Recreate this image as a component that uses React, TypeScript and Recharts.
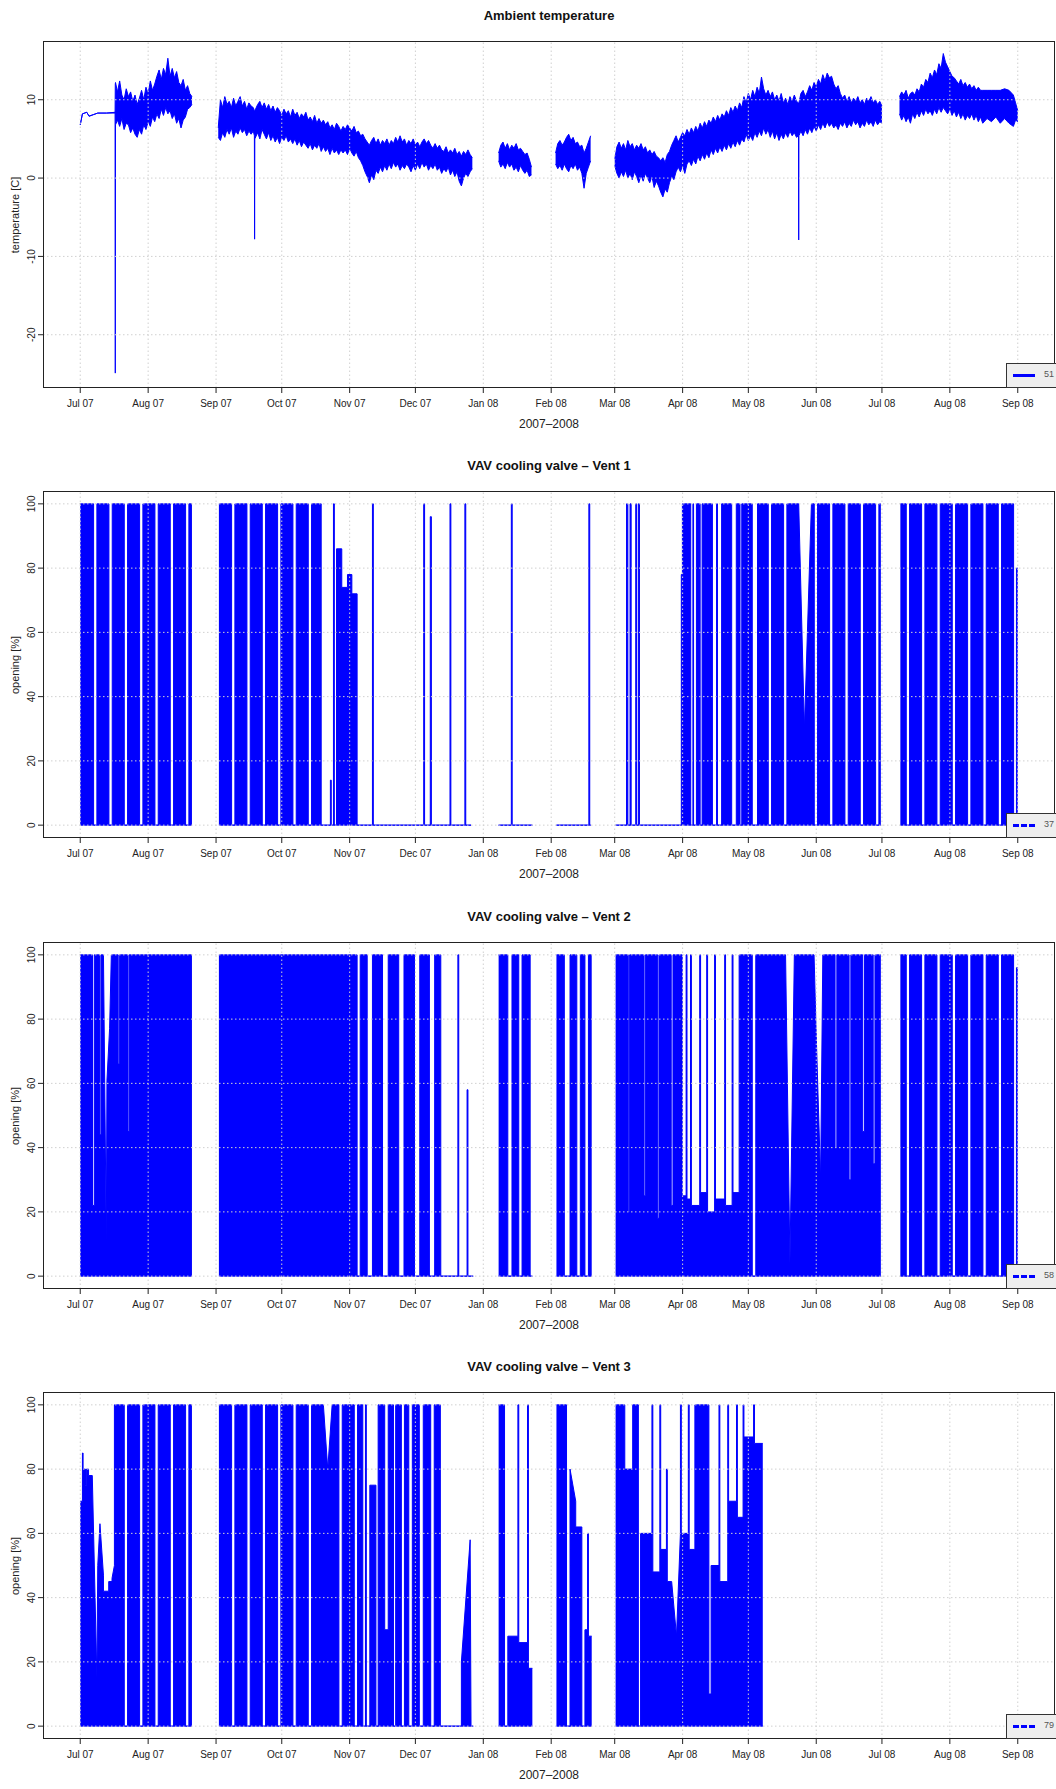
import React from "react"
import { ComposedChart, Area, XAxis, YAxis, ReferenceLine } from "recharts"

const FONT = '"Liberation Sans", Arial, Helvetica, sans-serif'
const BLUE = "#0000ff"
const GRID = "#d0d0d0"

// x axis: days since 1 Jul 2007
const MONTH_DAYS = [0, 31, 62, 92, 123, 153, 184, 215, 244, 275, 305, 336, 366, 397, 428]
const MONTH_LABELS = ["Jul 07", "Aug 07", "Sep 07", "Oct 07", "Nov 07", "Dec 07", "Jan 08", "Feb 08", "Mar 08", "Apr 08", "May 08", "Jun 08", "Jul 08", "Aug 08", "Sep 08"]

const TEMP_TICKS = [-20, -10, 0, 10]
const OPEN_TICKS = [0, 20, 40, 60, 80, 100]

// ambient temperature, [day, low, high] per sample, one list per recorded stretch
const TEMP_SEGMENTS: number[][][] = [
  [[0, 6.8, 6.8], [1, 8.2, 8.2], [3, 8.4, 8.4], [4, 7.9, 7.9], [6, 8.1, 8.1], [8, 8.3, 8.3], [12, 8.3, 8.3], [15.9, 8.3, 8.4],
   [16.0, -24.9, 12.0], [16.1, 6.8, 12.2], [17, 7.4, 11.0], [18, 6.6, 12.4], [19, 7.6, 10.6], [20, 6.2, 10.0], [21, 7.0, 11.4],
   [22, 6.8, 10.4], [23, 5.8, 11.0], [24, 6.4, 9.8], [25, 5.6, 10.6], [26, 5.2, 9.4], [27, 6.2, 10.2], [28, 5.6, 11.2],
   [29, 6.8, 10.0], [30, 6.2, 11.6], [31, 7.2, 10.8], [32, 6.6, 12.4], [33, 7.8, 11.2], [34, 7.2, 12.0], [35, 8.2, 13.0],
   [36, 7.6, 13.8], [37, 8.8, 12.6], [38, 8.0, 14.0], [39, 9.0, 13.2], [40, 8.2, 15.3], [41, 8.6, 13.0], [42, 7.6, 14.0],
   [43, 8.2, 12.8], [44, 7.0, 13.6], [45, 7.6, 12.2], [46, 6.4, 11.8], [47, 7.4, 12.6], [48, 7.8, 11.2], [49, 8.8, 11.8],
   [50, 9.0, 10.8], [51, 9.4, 10.4]],
  [[63, 5.2, 6.4], [64, 4.8, 10.0], [65, 5.8, 9.0], [66, 5.2, 10.4], [67, 6.2, 9.4], [68, 5.6, 9.8], [69, 6.4, 9.0], [70, 5.2, 10.2],
   [71, 6.0, 9.2], [72, 5.6, 9.8], [73, 6.4, 10.4], [74, 5.8, 9.2], [75, 6.2, 9.8], [76, 5.4, 8.8], [77, 6.0, 9.6], [78, 5.6, 9.2],
   [79, 6.0, 9.0], [79.5, 5.4, 8.6], [79.6, -7.8, 8.6], [79.7, 5.0, 8.6], [81, 5.8, 9.4], [82, 5.0, 9.8], [83, 6.2, 9.0],
   [84, 5.6, 9.6], [85, 5.0, 8.8], [86, 5.8, 9.4], [87, 4.8, 8.6], [88, 5.4, 9.2], [89, 4.6, 8.4], [90, 5.2, 9.0], [91, 4.4, 8.6],
   [92, 5.2, 8.0], [93, 4.8, 8.8], [94, 5.4, 8.2], [95, 4.6, 8.6], [96, 5.0, 7.8], [97, 4.4, 8.8], [98, 5.0, 8.0], [99, 4.2, 8.4],
   [100, 4.8, 7.6], [101, 4.0, 8.2], [102, 4.6, 7.8], [103, 4.2, 8.4], [104, 3.8, 7.4], [105, 4.4, 7.8], [106, 3.6, 7.2],
   [107, 4.2, 8.0], [108, 3.8, 7.0], [109, 4.4, 7.6], [110, 3.4, 7.0], [111, 4.0, 7.4], [112, 3.4, 6.8], [113, 3.8, 7.2],
   [114, 3.0, 6.4], [115, 3.8, 6.8], [116, 3.2, 6.2], [117, 3.6, 7.0], [118, 3.0, 6.6], [119, 3.6, 6.0], [120, 3.2, 6.6],
   [121, 3.6, 6.2], [122, 3.0, 6.8], [123, 3.8, 6.4], [124, 3.2, 6.0], [125, 2.8, 6.6], [126, 3.4, 5.8], [127, 2.6, 6.0],
   [128, 2.2, 5.4], [129, 1.6, 5.6], [130, 0.8, 5.0], [131, 0.2, 4.6], [132, -0.6, 4.2], [133, 0.4, 4.8], [134, -0.2, 5.2],
   [135, 1.0, 4.4], [136, 0.6, 5.0], [137, 1.4, 4.2], [138, 0.8, 4.8], [139, 1.6, 4.4], [140, 1.0, 5.0], [141, 1.8, 4.2],
   [142, 1.2, 4.8], [143, 2.0, 4.4], [144, 1.4, 5.2], [145, 1.8, 4.6], [146, 1.0, 5.4], [147, 1.6, 4.6], [148, 1.2, 5.0],
   [149, 1.8, 4.2], [150, 1.4, 4.8], [151, 0.8, 4.4], [152, 1.6, 5.0], [153, 1.0, 4.2], [154, 1.8, 4.6], [155, 1.2, 4.0],
   [156, 2.0, 4.6], [157, 1.4, 5.0], [158, 1.8, 4.4], [159, 1.0, 4.8], [160, 1.6, 4.2], [161, 1.2, 3.8], [162, 1.8, 4.4],
   [163, 1.0, 3.8], [164, 1.4, 4.2], [165, 0.6, 3.6], [166, 1.2, 3.4], [167, 0.8, 4.0], [168, 1.4, 3.2], [169, 0.4, 3.6],
   [170, 1.0, 3.2], [171, 0.2, 3.8], [172, 0.8, 3.0], [173, -0.4, 3.4], [174, -1.0, 2.8], [175, 0.0, 3.4], [176, 0.6, 3.0],
   [177, 0.2, 3.6], [178, 0.8, 3.0], [179, 1.2, 2.6]],
  [[191, 2.2, 3.2], [192, 1.4, 4.2], [193, 1.8, 4.6], [194, 1.2, 3.8], [195, 2.0, 4.4], [196, 1.4, 3.6], [197, 1.8, 4.2],
   [198, 1.0, 3.8], [199, 1.4, 4.4], [200, 0.8, 3.6], [201, 1.6, 3.8], [202, 1.0, 3.4], [203, 0.6, 3.0], [204, 1.0, 3.2],
   [205, 0.2, 2.4], [206, 0.4, 1.4]],
  [[217, 1.8, 3.2], [218, 1.2, 4.4], [219, 1.6, 4.8], [220, 1.0, 4.2], [221, 1.8, 4.6], [222, 1.2, 5.2], [223, 0.8, 5.6],
   [224, 1.6, 4.8], [225, 1.2, 5.2], [226, 1.8, 4.4], [227, 1.0, 4.6], [228, 1.4, 4.0], [229, 0.6, 4.2], [230, -1.3, 3.2],
   [231, 0.6, 3.8], [232, 1.4, 4.6], [233, 2.2, 5.4]],
  [[244, 1.6, 2.4], [245, 0.6, 4.0], [246, 0.0, 4.6], [247, 0.8, 3.8], [248, 0.2, 4.4], [249, 1.0, 3.6], [250, 0.0, 4.8],
   [251, 0.6, 4.0], [252, -0.2, 4.4], [253, 0.8, 3.6], [254, 0.2, 4.2], [255, -0.6, 3.8], [256, 0.4, 4.4], [257, -0.4, 3.6],
   [258, 0.6, 4.0], [259, 0.0, 3.2], [260, -0.6, 3.6], [261, 0.2, 3.0], [262, -1.2, 3.4], [263, -0.4, 2.8], [264, -1.0, 2.6],
   [265, -1.8, 2.2], [266, -2.4, 2.6], [267, -1.4, 2.0], [268, -1.8, 3.0], [269, -0.6, 3.4], [270, 0.2, 4.2], [271, -0.2, 4.8],
   [272, 0.8, 5.4], [273, 1.4, 4.6], [274, 0.8, 5.2], [275, 1.6, 5.8], [276, 0.6, 5.4], [277, 1.8, 6.2], [278, 2.2, 5.6],
   [279, 1.6, 6.4], [280, 2.4, 5.8], [281, 1.8, 6.6], [282, 2.8, 6.0], [283, 2.2, 7.0], [284, 3.0, 6.4], [285, 2.4, 7.2],
   [286, 3.2, 6.6], [287, 2.6, 7.4], [288, 3.6, 7.0], [289, 3.0, 7.8], [290, 3.8, 7.2], [291, 3.2, 8.0], [292, 4.0, 7.4],
   [293, 3.4, 8.2], [294, 4.2, 7.8], [295, 3.6, 8.6], [296, 4.4, 8.0], [297, 3.8, 9.0], [298, 4.6, 8.4], [299, 4.0, 9.2],
   [300, 4.8, 8.6], [301, 4.2, 9.6], [302, 5.0, 9.0], [303, 4.6, 10.4], [304, 5.6, 9.6], [305, 4.8, 10.8], [306, 5.4, 10.0],
   [307, 4.8, 11.2], [308, 5.8, 10.4], [309, 5.2, 11.6], [310, 6.0, 10.8], [311, 5.4, 12.9], [312, 6.4, 11.4], [313, 5.6, 10.6],
   [314, 6.2, 11.2], [315, 5.2, 10.4], [316, 6.0, 11.0], [317, 5.0, 10.0], [318, 5.8, 10.6], [319, 4.8, 9.8], [320, 5.6, 10.8],
   [321, 5.0, 9.6], [322, 5.8, 10.2], [323, 5.2, 9.4], [324, 6.0, 10.4], [325, 5.4, 9.8], [326, 5.8, 10.6], [327, 5.2, 9.8],
   [327.9, 5.4, 9.6], [328.0, -7.9, 9.6], [328.1, 5.4, 9.6], [329, 6.0, 10.8], [330, 5.4, 11.2], [331, 6.2, 10.4],
   [332, 5.6, 11.0], [333, 6.4, 11.8], [334, 5.8, 11.2], [335, 6.6, 12.2], [336, 6.0, 11.6], [337, 6.8, 12.6], [338, 6.2, 12.0],
   [339, 7.0, 13.2], [340, 6.4, 12.4], [341, 7.2, 13.4], [342, 6.6, 12.8], [343, 7.0, 13.0], [344, 6.4, 12.0], [345, 6.8, 11.4],
   [346, 6.2, 11.8], [347, 7.0, 10.8], [348, 6.6, 10.2], [349, 7.2, 10.6], [350, 6.4, 9.8], [351, 7.0, 10.4], [352, 6.6, 9.6],
   [353, 7.4, 10.2], [354, 6.8, 9.8], [355, 7.2, 10.4], [356, 6.4, 9.6], [357, 7.0, 10.0], [358, 6.6, 9.4], [359, 7.4, 10.2],
   [360, 6.8, 9.8], [361, 7.2, 10.4], [362, 6.6, 9.6], [363, 7.4, 10.0], [364, 6.8, 9.4], [365, 7.2, 9.8], [366, 7.0, 9.2]],
  [[374, 8.2, 10.4], [375, 7.4, 11.0], [376, 8.0, 10.6], [377, 7.2, 11.2], [378, 7.8, 10.2], [379, 7.0, 10.8], [380, 8.2, 11.0],
   [381, 7.6, 10.6], [382, 8.4, 11.4], [383, 7.8, 11.0], [384, 8.6, 12.0], [385, 8.0, 11.6], [386, 8.8, 12.6], [387, 8.2, 12.2],
   [388, 8.6, 13.4], [389, 8.0, 12.8], [390, 8.8, 13.8], [391, 8.2, 13.2], [392, 9.0, 14.6], [393, 8.4, 14.0], [394, 9.0, 15.9],
   [395, 8.6, 14.8], [396, 8.2, 14.2], [397, 8.8, 13.6], [398, 8.0, 13.0], [399, 8.6, 12.8], [400, 7.8, 12.4], [401, 8.4, 12.0],
   [402, 7.6, 12.6], [403, 8.2, 11.8], [404, 7.4, 12.2], [405, 8.0, 11.6], [406, 7.6, 12.0], [407, 8.2, 11.4], [408, 7.4, 11.8],
   [409, 8.0, 11.2], [410, 7.2, 11.6], [411, 7.8, 11.2], [412, 7.0, 11.2], [414, 7.6, 11.2], [416, 7.2, 11.2], [418, 7.8, 11.2],
   [420, 7.0, 11.2], [422, 7.6, 11.4], [424, 7.0, 11.2], [426, 6.6, 10.6], [427, 7.4, 9.6], [428, 7.2, 8.6]],
]

// valve opening [%]: [fromDay, toDay, top] or [fromDay, toDay, topStart, topEnd]
const SUMMER_08 = [
  [374.4, 377.1, 100], [377.1, 378.6, 0], [378.6, 384.1, 100], [384.1, 385.6, 0], [385.6, 391.1, 100], [391.1, 392.6, 0],
  [392.6, 398.1, 100], [398.1, 399.6, 0], [399.6, 405.1, 100], [405.1, 406.6, 0], [406.6, 412.1, 100], [412.1, 413.6, 0],
  [413.6, 419.1, 100], [419.1, 420.6, 0], [420.6, 426.1, 100], [426.1, 427.4, 0],
]

const VENT1_RUNS = [
  [0, 6.1, 100], [6.1, 7.6, 0], [7.6, 13.1, 100], [13.1, 14.6, 0], [14.6, 20.1, 100], [20.1, 21.6, 0],
  [21.6, 27.1, 100], [27.1, 28.6, 0], [28.6, 34.1, 100], [34.1, 35.6, 0], [35.6, 41.1, 100], [41.1, 42.6, 0],
  [42.6, 48.1, 100], [48.1, 49.6, 0], [49.6, 51, 100],
  [63.3, 69.1, 100], [69.1, 70.6, 0], [70.6, 76.1, 100], [76.1, 77.6, 0], [77.6, 83.1, 100], [83.1, 84.6, 0],
  [84.6, 90.1, 100], [90.1, 91.6, 0], [91.6, 97.1, 100], [97.1, 98.6, 0], [98.6, 104.1, 100], [104.1, 105.6, 0],
  [105.6, 110, 100], [110, 114.2, 0], [114.2, 114.6, 14], [114.6, 115.6, 0], [115.6, 116.0, 100], [116.0, 117.0, 0],
  [117.0, 119.4, 86], [119.4, 122, 74], [122, 124, 78], [124, 126.4, 72], [126.4, 133.4, 0], [133.4, 133.8, 100],
  [133.8, 156.8, 0], [156.8, 157.2, 100], [157.2, 159.8, 0], [159.8, 160.3, 96], [160.3, 168.8, 0], [168.8, 169.2, 100],
  [169.2, 175.6, 0], [175.6, 176.0, 100], [176.0, 178.4, 0],
  [191, 196.8, 0], [196.8, 197.2, 100], [197.2, 206.4, 0],
  [217.4, 232.2, 0], [232.2, 232.6, 100], [232.6, 233, 0],
  [244.4, 249.4, 0], [249.4, 250.0, 100], [250.0, 251.0, 0], [251.0, 251.5, 100], [251.5, 253.6, 0], [253.6, 254.0, 100],
  [254.0, 254.8, 0], [254.8, 255.3, 100], [255.3, 274.4, 0],
  [274.4, 274.9, 78], [274.9, 278.7, 100], [278.7, 279.7, 0], [279.7, 280.0, 100], [280.0, 281.3, 0], [281.3, 283.0, 100],
  [283.0, 283.9, 0], [283.9, 288.6, 100], [288.6, 290.5, 0], [290.5, 290.9, 100], [290.9, 292.8, 0], [292.8, 297.4, 100],
  [297.4, 299.5, 0], [299.5, 301.2, 100], [301.2, 302.0, 0], [302.0, 306.8, 100], [306.8, 309.2, 0], [309.2, 314.1, 100],
  [314.1, 315.6, 0], [315.6, 321.1, 100], [321.1, 322.6, 0], [322.6, 328.0, 100], [328.0, 330.6, 100, 30], [330.6, 333.8, 30, 100],
  [333.8, 335.1, 100], [335.1, 336.6, 0], [336.6, 342.1, 100], [342.1, 343.6, 0], [343.6, 349.1, 100], [349.1, 350.6, 0],
  [350.6, 356.1, 100], [356.1, 357.6, 0], [357.6, 363.1, 100], [363.1, 364.6, 0], [364.6, 365.5, 100],
  ...SUMMER_08, [427.4, 428, 80],
]

const VENT2_RUNS = [
  [0, 5.6, 100], [5.6, 6.4, 22], [6.4, 9.0, 100], [9.0, 9.5, 44], [9.5, 10.6, 100], [10.6, 11.9, 100, 10], [11.9, 12.2, 10, 61],
  [12.2, 13.4, 61, 77], [13.4, 14.2, 77, 100], [14.2, 17.3, 100], [17.3, 17.8, 66], [17.8, 21.8, 100], [21.8, 22.3, 45], [22.3, 51, 100],
  [63.3, 126.4, 100], [126.4, 127.8, 0], [127.8, 131, 100], [131, 133.4, 0], [133.4, 138, 100], [138, 140.6, 0], [140.6, 145.4, 100],
  [145.4, 147.8, 0], [147.8, 152.6, 100], [152.6, 155, 0], [155, 159.4, 100], [159.4, 161.8, 0], [161.8, 164.6, 100], [164.6, 172.4, 0],
  [172.4, 172.8, 100], [172.8, 176.6, 0], [176.6, 177.0, 58], [177.0, 179.4, 0],
  [191, 195.2, 100], [195.2, 197.1, 0], [197.1, 200.2, 100], [200.2, 201.7, 0], [201.7, 205.4, 100], [205.4, 206.4, 0],
  [217.4, 221, 100], [221, 223.6, 0], [223.6, 226.7, 100], [226.7, 228.3, 0], [228.3, 230.4, 100], [230.4, 232, 0], [232, 233.5, 100],
  [244.4, 250.2, 100], [250.2, 250.8, 20], [250.8, 257.4, 100], [257.4, 258.0, 25], [258.0, 263.6, 100], [263.6, 264.2, 18],
  [264.2, 269.8, 100], [269.8, 270.6, 22], [270.6, 274.8, 100], [274.8, 276.6, 25], [276.6, 277.0, 100], [277.0, 278.6, 24],
  [278.6, 279.0, 100], [279.0, 282.8, 22], [282.8, 283.2, 100], [283.2, 286.0, 26], [286.0, 286.4, 100], [286.4, 289.6, 20],
  [289.6, 290.0, 100], [290.0, 294.2, 24], [294.2, 294.6, 100], [294.6, 297.6, 22], [297.6, 298.0, 100], [298.0, 300.8, 26],
  [300.8, 306.8, 100], [306.8, 308.4, 0], [308.4, 322.0, 100], [322.0, 324.0, 100, 4], [324.0, 326.0, 4, 100], [326.0, 335.0, 100],
  [335.0, 336.0, 100, 75], [336.0, 338.0, 75, 30], [338.0, 339.0, 30, 100], [339.0, 344.6, 100], [344.6, 345.4, 40], [345.4, 351.0, 100],
  [351.0, 351.8, 30], [351.8, 357.2, 100], [357.2, 358.0, 45], [358.0, 362.0, 100], [362.0, 362.8, 35], [362.8, 365.5, 100],
  ...SUMMER_08, [427.4, 428, 96],
]

const VENT3_RUNS = [
  [0, 1.0, 70], [1.0, 1.3, 85], [1.3, 2.4, 80], [2.4, 2.8, 75], [2.8, 3.8, 80], [3.8, 5.5, 78], [5.5, 7.6, 78, 15], [7.6, 8.0, 15, 50],
  [8.0, 9.0, 50, 63], [9.0, 10.6, 63, 47], [10.6, 13.0, 42], [13.0, 14.5, 45], [14.5, 15.6, 46, 50], [15.6, 20.1, 100], [20.1, 21.6, 0],
  [21.6, 27.1, 100], [27.1, 28.6, 0], [28.6, 34.1, 100], [34.1, 35.6, 0], [35.6, 41.1, 100], [41.1, 42.6, 0], [42.6, 48.1, 100],
  [48.1, 49.6, 0], [49.6, 51, 100],
  [63.3, 69.1, 100], [69.1, 70.6, 0], [70.6, 76.1, 100], [76.1, 77.6, 0], [77.6, 83.1, 100], [83.1, 84.6, 0], [84.6, 90.1, 100],
  [90.1, 91.6, 0], [91.6, 97.1, 100], [97.1, 98.6, 0], [98.6, 104.1, 100], [104.1, 105.6, 0], [105.6, 111.0, 100], [111.0, 113.0, 100, 80],
  [113.0, 115.0, 80, 100], [115.0, 118.1, 100], [118.1, 119.6, 0], [119.6, 125.1, 100], [125.1, 126.6, 0], [126.6, 129.0, 100],
  [129.0, 130.2, 0], [130.2, 130.6, 100], [130.6, 132.2, 0], [132.2, 135.0, 75], [135.0, 136.0, 0], [136.0, 139.0, 100],
  [139.0, 140.6, 30], [140.6, 143.0, 100], [143.0, 144.0, 0], [144.0, 146.6, 100], [146.6, 148.0, 0], [148.0, 150.0, 100],
  [150.0, 151.6, 0], [151.6, 154.8, 100], [154.8, 156.6, 0], [156.6, 160.0, 100], [160.0, 161.6, 0], [161.6, 164.4, 100],
  [164.4, 174.0, 0], [174.0, 178.0, 20, 58], [178.0, 178.4, 58, 0], [178.4, 179.4, 0],
  [191, 193.7, 100], [193.7, 195.2, 0], [195.2, 199.8, 28], [199.8, 200.2, 100], [200.2, 204.2, 26], [204.2, 204.6, 100], [204.6, 206.4, 18],
  [217.4, 222, 100], [222, 223.6, 0], [223.6, 226.2, 80, 70], [226.2, 229, 62], [229, 230.4, 0], [230.4, 231.6, 30], [231.6, 232, 60],
  [232, 233.5, 28],
  [244.4, 248.6, 100], [248.6, 252.2, 80], [252.2, 254.8, 100], [254.8, 255.8, 0], [255.8, 261, 60], [261, 261.4, 100], [261.4, 264.6, 48],
  [264.6, 265.0, 100], [265.0, 267.6, 55], [267.6, 268.0, 80], [268.0, 270.0, 45], [270.0, 272.2, 45, 28], [272.2, 274.0, 28, 60],
  [274.0, 274.4, 100], [274.4, 277.6, 60], [277.6, 278.0, 100], [278.0, 280.6, 55], [280.6, 287.0, 100], [287.0, 288.0, 10],
  [288.0, 291.6, 50], [291.6, 292.0, 100], [292.0, 295.6, 45], [295.6, 296.0, 100], [296.0, 299.6, 70], [299.6, 300.0, 100],
  [300.0, 302.6, 65], [302.6, 303.0, 100], [303.0, 307.4, 90], [307.4, 307.8, 100], [307.8, 311.6, 88],
]

function tempRows() {
  const rows: any[] = []
  TEMP_SEGMENTS.forEach((seg, i) => {
    if (i > 0) {
      const prev = TEMP_SEGMENTS[i - 1]
      rows.push({ d: (prev[prev.length - 1][0] + seg[0][0]) / 2, v: null })
    }
    seg.forEach(([d, lo, hi]) => rows.push({ d, v: [lo, hi] }))
  })
  return rows
}

function valveRows(runs: number[][]) {
  const rows: any[] = []
  runs.forEach((r, i) => {
    const [a, b, top] = r
    const top2 = r.length > 3 ? r[3] : top
    const prev = runs[i - 1]
    if (prev && a - prev[1] > 0.01) rows.push({ d: (a + prev[1]) / 2, v: null })
    rows.push({ d: a, v: [0, top] }, { d: b, v: [0, top2] })
  })
  return rows
}

const PLOT_LEFT = 43
const PLOT_TOP = 41
const PLOT_H = 347
const CHART_W = 1056

const YTick = (props: any) => {
  const { x, y, payload } = props
  return (
    <text x={x} y={y} transform={`rotate(-90, ${x}, ${y})`} textAnchor="middle" fontSize={10} fill="#222" fontFamily={FONT}>
      {payload.value}
    </text>
  )
}

interface PanelProps {
  top: number
  title: string
  ylabel: string
  rows: any[]
  yDomain: number[]
  yTicks: number[]
  legend: string
  dashed?: boolean
}

function Panel({ top, title, ylabel, rows, yDomain, yTicks, legend, dashed }: PanelProps) {
  const plotW = CHART_W - PLOT_LEFT - 1
  return (
    <div style={{ position: "absolute", left: 0, top, width: CHART_W, height: 450 }}>
      <div style={{ position: "absolute", left: PLOT_LEFT, width: plotW, top: 8, textAlign: "center", fontFamily: FONT, fontWeight: "bold", fontSize: 13, lineHeight: "16px", color: "#111" }}>
        {title}
      </div>
      <ComposedChart width={CHART_W} height={450} data={rows} margin={{ top: PLOT_TOP, right: 1, bottom: 0, left: 0 }}>
        <XAxis
          type="number"
          dataKey="d"
          domain={[-17, 445]}
          allowDataOverflow
          ticks={MONTH_DAYS}
          tickFormatter={(v: number) => MONTH_LABELS[MONTH_DAYS.indexOf(v)]}
          interval={0}
          height={450 - PLOT_TOP - PLOT_H}
          axisLine={false}
          tickSize={5}
          tickMargin={7}
          tickLine={{ stroke: "#222" }}
          tick={{ fontSize: 10, fill: "#222", fontFamily: FONT }}
        />
        <YAxis
          type="number"
          domain={yDomain}
          allowDataOverflow
          ticks={yTicks}
          interval={0}
          width={PLOT_LEFT}
          axisLine={false}
          tickSize={5}
          tickMargin={3}
          tickLine={{ stroke: "#222" }}
          tick={<YTick />}
        />
        <Area
          type="linear"
          dataKey="v"
          stroke={BLUE}
          strokeWidth={1}
          fill={BLUE}
          fillOpacity={1}
          connectNulls={false}
          dot={false}
          activeDot={false}
          isAnimationActive={false}
        />
        {MONTH_DAYS.map((d) => (
          <ReferenceLine key={`x${d}`} x={d} stroke={GRID} strokeWidth={1} strokeDasharray="1.5 2.5" />
        ))}
        {yTicks.map((v) => (
          <ReferenceLine key={`y${v}`} y={v} stroke={GRID} strokeWidth={1} strokeDasharray="1.5 2.5" />
        ))}
      </ComposedChart>
      <div style={{ position: "absolute", left: PLOT_LEFT, top: PLOT_TOP, width: plotW, height: PLOT_H, border: "1px solid #222", boxSizing: "border-box", pointerEvents: "none" }} />
      <div style={{ position: "absolute", left: 15, top: PLOT_TOP + PLOT_H / 2, transform: "translate(-50%, -50%) rotate(-90deg)", whiteSpace: "nowrap", fontFamily: FONT, fontSize: 11, color: "#222" }}>
        {ylabel}
      </div>
      <div style={{ position: "absolute", left: PLOT_LEFT, width: plotW, top: 417, textAlign: "center", fontFamily: FONT, fontSize: 12, lineHeight: "14px", color: "#222" }}>
        2007–2008
      </div>
      <div style={{ position: "absolute", left: 1006, top: 363, width: 70, height: 25, border: "1px solid #333", boxSizing: "border-box", background: "#eeeeee" }}>
        <div style={{ position: "absolute", left: 6, top: 10, width: 22, height: 0, borderTop: `3px ${dashed ? "dashed" : "solid"} ${BLUE}` }} />
        <div style={{ position: "absolute", left: 37, top: 5, fontFamily: FONT, fontSize: 9, color: "#555" }}>{legend}</div>
      </div>
    </div>
  )
}

export default function App() {
  return (
    <div style={{ position: "absolute", left: 0, top: 0, width: 1056, height: 1789, overflow: "hidden", background: "#fff" }}>
      <Panel top={0} title="Ambient temperature" ylabel="temperature [C]" rows={tempRows()} yDomain={[-26.8, 17.5]} yTicks={TEMP_TICKS} legend="51" />
      <Panel top={450} title="VAV cooling valve – Vent 1" ylabel="opening [%]" rows={valveRows(VENT1_RUNS)} yDomain={[-4, 104]} yTicks={OPEN_TICKS} legend="37" dashed />
      <Panel top={901} title="VAV cooling valve – Vent 2" ylabel="opening [%]" rows={valveRows(VENT2_RUNS)} yDomain={[-4, 104]} yTicks={OPEN_TICKS} legend="58" dashed />
      <Panel top={1351} title="VAV cooling valve – Vent 3" ylabel="opening [%]" rows={valveRows(VENT3_RUNS)} yDomain={[-4, 104]} yTicks={OPEN_TICKS} legend="79" dashed />
    </div>
  )
}
